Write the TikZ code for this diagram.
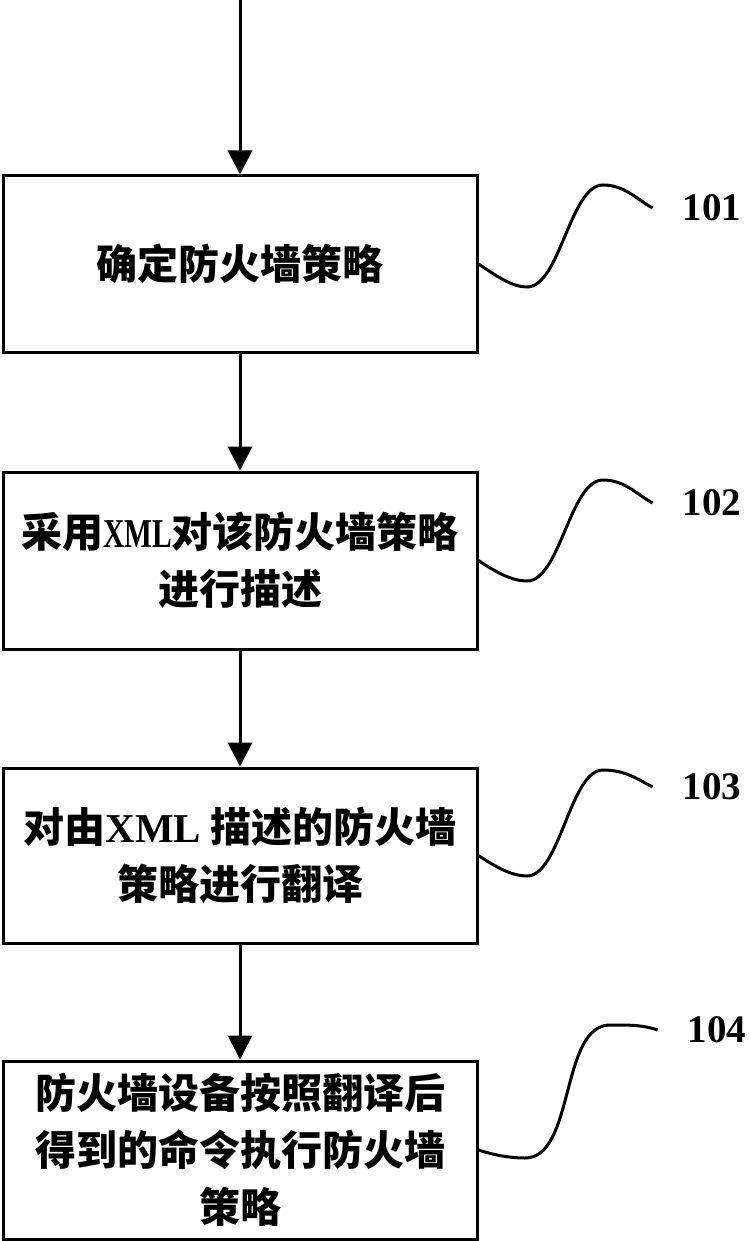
\documentclass[tikz,border=0pt]{standalone}
\usepackage{graphicx}
\usepackage{fontspec}
\setmainfont{Liberation Serif}
\newfontfamily\cjk{Noto Sans CJK SC}
\newcommand{\xmltext}{\scalebox{0.72}[1]{\rmfamily XML}}
\usetikzlibrary{arrows.meta}
\begin{document}
\begin{tikzpicture}[x=1pt,y=-1pt]
\tikzstyle{box}=[draw,line width=3pt,minimum width=474pt,minimum height=176pt,inner sep=0pt,align=center,font=\cjk\bfseries\fontsize{41}{57}\selectfont]
\tikzstyle{tag}=[inner xsep=30pt,inner ysep=0pt,font=\bfseries\fontsize{39}{39}\selectfont]
\tikzstyle{arr}=[line width=3pt,-{Triangle[length=24pt,width=24pt]}]
\tikzstyle{wave}=[line width=3pt]
\useasboundingbox (0,0) rectangle (749,1241);
\coordinate (start) at (240,0);
\node[box] (box 1) at (240,264) {确定防火墙策略};
\node[box,minimum height=177pt] (box 2) at (240,560.5) {采用\xmltext 对该防火墙策略\\进行描述};
\node[box,minimum height=175pt] (box 3) at (240,855.5) {对由{\rmfamily XML} 描述的防火墙\\策略进行翻译};
\node[box,minimum height=178pt] (box 4) at (240,1150) {\rule{0pt}{12pt}防火墙设备按照翻译后\\得到的命令执行防火墙\\策略};
\node[tag] (tag 1) at (712,208) {101};
\node[tag] (tag 2) at (712,503) {102};
\node[tag] (tag 3) at (712,787) {103};
\node[tag] (tag 4) at (717,1030) {104};
\draw[arr] (start) -- (box 1);
\draw[arr] (box 1) -- (box 2);
\draw[arr] (box 2) -- (box 3);
\draw[arr] (box 3) -- (box 4);
\draw[wave] (box 1.east) .. controls +(18,12) and +(-15,0) .. (527,287)
  .. controls +(33,0) and +(-33,0) .. (603,185)
  .. controls +(22,0) and +(-15,-8) .. (tag 1.west);
\draw[wave] (box 2.east) .. controls +(18,12) and +(-15,0) .. (527,581)
  .. controls +(33,0) and +(-33,0) .. (603,480)
  .. controls +(22,0) and +(-15,-8) .. (tag 2.west);
\draw[wave] (box 3.east) .. controls +(18,12) and +(-15,0) .. (527,876)
  .. controls +(33,0) and +(-33,0) .. (603,770)
  .. controls +(22,0) and +(-15,-8) .. (tag 3.west);
\draw[wave] (box 4.east) .. controls +(15,5) and +(-15,0) .. (525,1158)
  .. controls +(50,0) and +(-50,0) .. (610,1025)
  .. controls +(22,0) and +(-15,-5) .. (tag 4.west);
\end{tikzpicture}
\end{document}
